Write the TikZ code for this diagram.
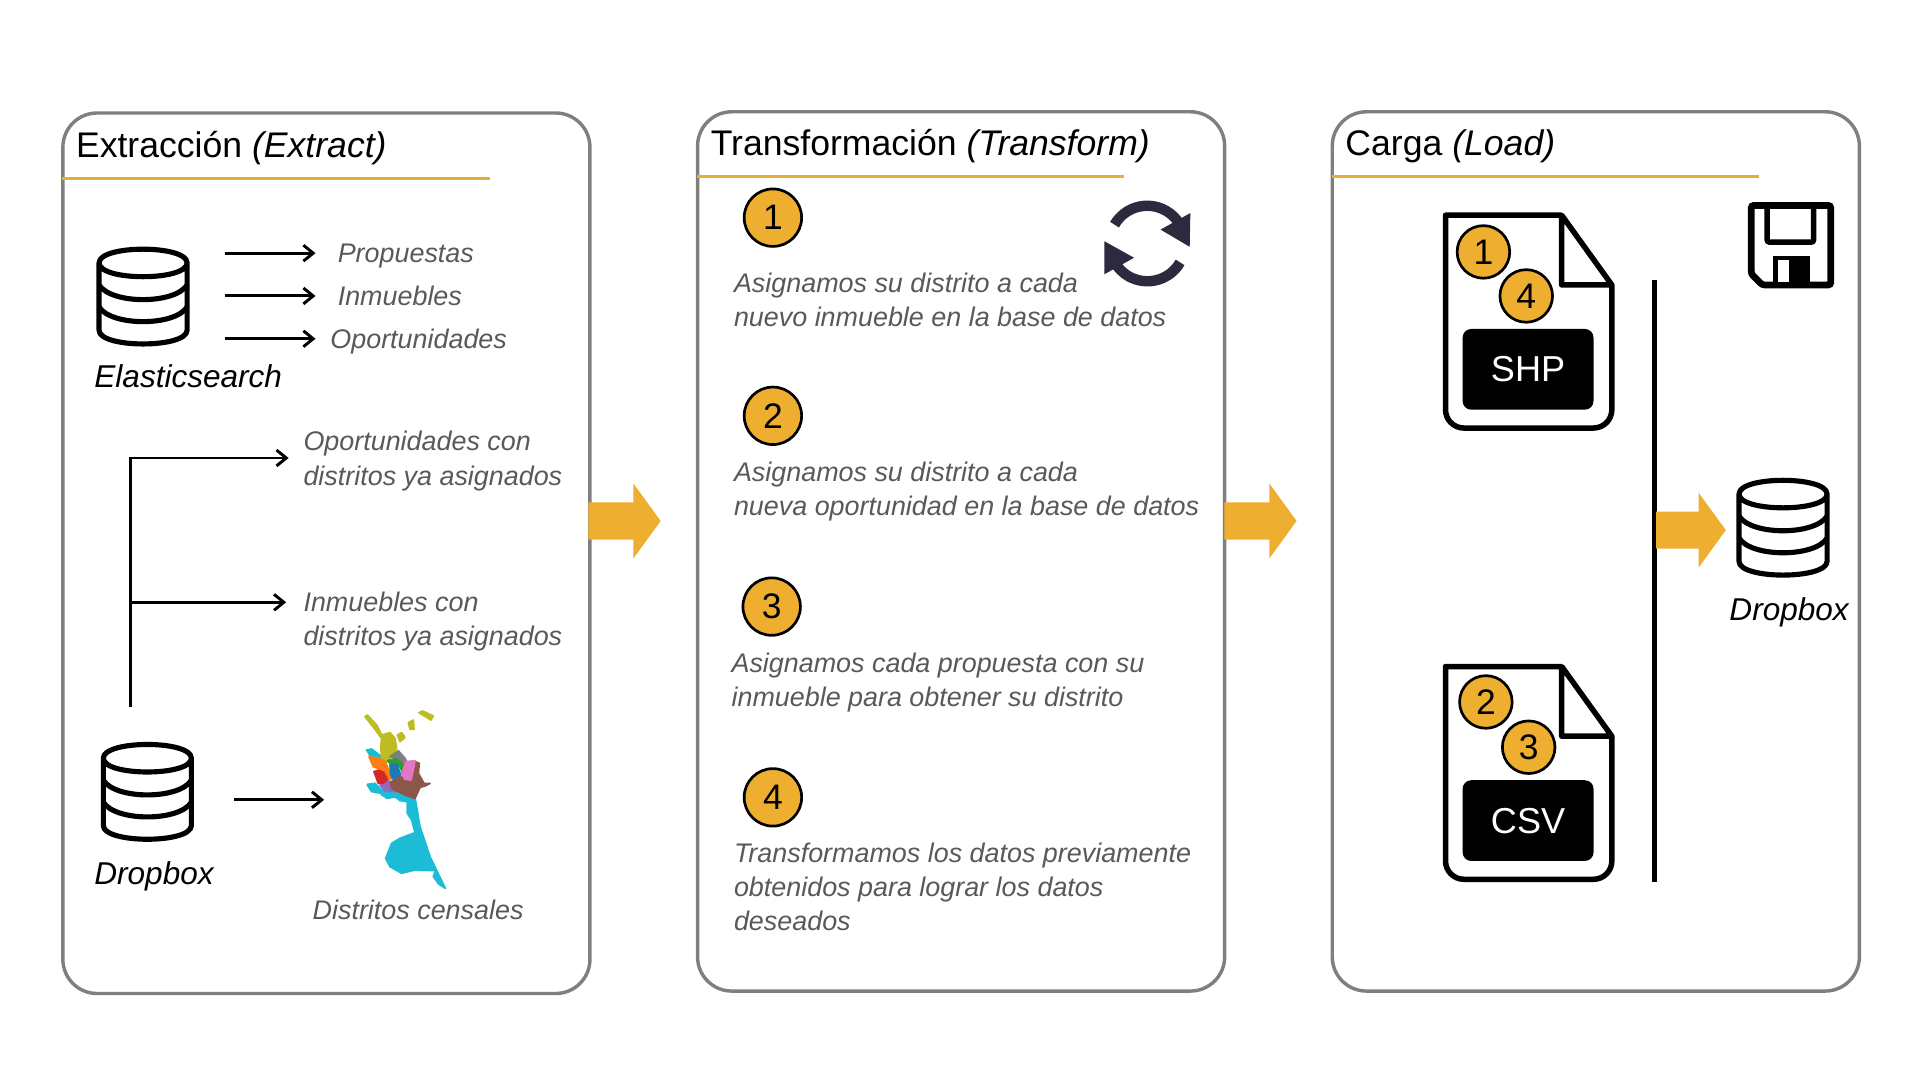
\documentclass[tikz,border=0pt]{standalone}
\usepackage{fontspec}
\setmainfont{Liberation Sans}
\usetikzlibrary{arrows.meta,shapes.arrows}
\definecolor{amber}{HTML}{EEAE30}
\definecolor{rulegold}{HTML}{E5B03A}
\definecolor{panelgray}{HTML}{7F7F7F}
\definecolor{textgray}{HTML}{595959}
\definecolor{syncnavy}{HTML}{2B2A3E}
\definecolor{mapcyan}{RGB}{28,188,214}
\definecolor{mapolive}{RGB}{189,189,34}
\definecolor{mapgray}{RGB}{127,127,127}
\definecolor{mappurple}{RGB}{148,103,189}
\definecolor{mapred}{RGB}{214,39,40}
\definecolor{maporange}{RGB}{255,127,14}
\definecolor{mapgreen}{RGB}{44,160,44}
\definecolor{mapblue}{RGB}{31,119,180}
\definecolor{mapbrown}{RGB}{140,86,75}
\definecolor{mappink}{RGB}{227,119,194}
\tikzstyle{panel} = [rectangle, draw=panelgray, line width=2.8pt, rounded corners=28pt, fill=white, anchor=north west, inner sep=0pt]
\tikzstyle{titlerule} = [rulegold, line width=2.5pt]
\tikzstyle{paneltitle} = [anchor=base west, inner sep=0pt, font=\fontsize{29.1}{34}\selectfont]
\tikzstyle{itemtext} = [anchor=west, inner sep=0pt, align=left, text=textgray, font=\fontsize{22}{28}\selectfont\itshape]
\tikzstyle{itemline} = [itemtext, text height=18pt, text depth=2pt]
\tikzstyle{dblabel} = [anchor=base west, inner sep=0pt, font=\fontsize{25.8}{30}\selectfont\itshape]
\tikzstyle{stepcircle} = [circle, draw=black, line width=2.2pt, fill=amber, minimum size=47pt, inner sep=0pt, font=\fontsize{29}{30}\selectfont]
\tikzstyle{smallcircle} = [circle, draw=black, line width=2.2pt, fill=amber, minimum size=43pt, inner sep=0pt, font=\fontsize{29}{30}\selectfont]
\tikzstyle{filetag} = [rectangle, fill=black, text=white, rounded corners=7pt, minimum width=107pt, minimum height=66pt, inner sep=0pt, font=\fontsize{29.5}{30}\selectfont]
\tikzstyle{arrow} = [line width=2.4pt, -{Straight Barb[length=8pt,width=13pt,line width=2.4pt]}]
\tikzstyle{flowarrow} = [single arrow, fill=amber, anchor=west, inner xsep=0pt, inner ysep=15pt, minimum height=59pt, single arrow head extend=15.5pt, single arrow tip angle=108]
\tikzstyle{dbbox} = [rectangle, minimum width=73pt, minimum height=78pt, inner sep=0pt]
\tikzstyle{mapblob} = [line width=1.4pt, line join=round]
\tikzset{
	dbicon/.pic={
		\draw [line width=4.2pt, line join=round] (-36,-27) .. controls (-36,-42) and (36,-42) .. (36,-27) .. controls (36,-12) and (-36,-12) .. (-36,-27) -- (-36,28) .. controls (-36,43) and (36,43) .. (36,28) -- (36,-27);
		\draw [line width=4.2pt] (-36,-9) .. controls (-26,7) and (26,7) .. (36,-9);
		\draw [line width=4.2pt] (-36,9) .. controls (-26,25) and (26,25) .. (36,9);
	},
	fileicon/.pic={
		\draw [line width=4.5pt, line join=round] (27,-87) -- (-68,-87) [rounded corners=15pt] -- (-68,87) [rounded corners=15pt] -- (68,87) [sharp corners] -- (68,-30) -- (27,-87) -- (27,-30) -- (68,-30);
	}
}
\begin{document}
\begin{tikzpicture}[x=1pt, y=-1pt]
	\useasboundingbox (0,0) rectangle (1570,883.1);
	% Panels
	\node [panel, minimum width=431pt, minimum height=720pt] (ExtractPanel) at (50,91) {};
	\node [panel, minimum width=431pt, minimum height=719pt] (TransformPanel) at (569,90) {};
	\node [panel, minimum width=431pt, minimum height=719pt] (LoadPanel) at (1088,90) {};
	\node [paneltitle] (ExtractTitle) at (62,129) {Extracción \textit{(Extract)}};
	\node [paneltitle] (TransformTitle) at (581,127) {Transformación \textit{(Transform)}};
	\node [paneltitle] (LoadTitle) at (1100,127) {Carga \textit{(Load)}};
	\draw [titlerule] (51,146) -- (401,146);
	\draw [titlerule] (570,144.5) -- (919,144.5);
	\draw [titlerule] (1089,144.5) -- (1438,144.5);
	% Extract panel
	\node [dbbox] (ElasticDb) at (117,242) {};
	\pic at (ElasticDb) {dbicon};
	\node [dblabel] (ElasticLabel) at (77,317) {Elasticsearch};
	\node [itemline] (Propuestas) at (276,207) {Propuestas};
	\node [itemline] (Inmuebles) at (276,242) {Inmuebles};
	\node [itemline] (Oportunidades) at (270,277) {Oportunidades};
	\node [itemtext] (OportunidadesDistritos) at (248,377) {Oportunidades con\\distritos ya asignados};
	\node [itemtext] (InmueblesDistritos) at (248,508) {Inmuebles con\\distritos ya asignados};
	\node [dbbox] (DropboxDb) at (120.5,647) {};
	\pic at (DropboxDb) {dbicon};
	\node [dblabel] (DropboxLabel) at (77,723) {Dropbox};
	\node [itemtext] (DistritosCensales) at (255.5,744) {Distritos censales};
	\coordinate (TreeRoot) at (107,578);
	\coordinate (TreeTop) at (107,374.5);
	\coordinate (TreeJoint) at (107,492.5);
	\coordinate (MapWest) at (265,654);
	% Census map
	\begin{scope}[shift={(245.3,556)}, x=0.2726pt, y=-0.2726pt]
		\filldraw [mapblob, mapcyan] (345,352) -- (360,440) -- (390,530) -- (436,625) -- (416,612) -- (400,590) -- (406,572) -- (345,570) -- (305,580) -- (270,560) -- (257,535) -- (275,490) -- (300,475) -- (345,458) -- (335,420) -- (322,400) -- (322,365) -- (300,362) -- (275,342) -- (260,352) -- (245,345) -- (240,332) -- (215,330) -- (203,313) -- (225,310) -- (245,330) -- cycle;
	\end{scope}
	\begin{scope}[shift={(286.2,572.4)}, x=0.2726pt, y=-0.2726pt]
		\filldraw [mapblob, mapcyan] (50,150) -- (65,147) -- (95,170) -- (85,180) -- (62,170) -- cycle;
		\filldraw [mapblob, mapcyan] (52,255) -- (75,252) -- (90,270) -- (125,272) -- (195,295) -- (185,305) -- (140,290) -- (110,295) -- (95,280) -- (65,275) -- cycle;
		\filldraw [mapblob, mapolive] (45,50) -- (52,45) -- (80,75) -- (95,105) -- (120,98) -- (135,115) -- (140,145) -- (125,170) -- (110,185) -- (95,175) -- (92,140) -- (95,115) -- (75,88) -- cycle;
		\filldraw [mapblob, mapolive] (142,105) -- (155,98) -- (165,112) -- (150,125) -- cycle;
		\filldraw [mapblob, mapolive] (175,68) -- (190,60) -- (192,88) -- (180,88) -- cycle;
		\filldraw [mapblob, mapolive] (207,38) -- (218,33) -- (250,48) -- (243,60) -- cycle;
		\filldraw [mapblob, mapgray] (120,170) -- (145,152) -- (165,175) -- (170,185) -- (165,195) -- (140,178) -- cycle;
		\filldraw [mapblob, mappurple] (90,255) -- (112,235) -- (125,260) -- (140,275) -- (105,272) -- cycle;
		\filldraw [mapblob, mapred] (72,215) -- (100,205) -- (115,235) -- (100,250) -- (85,250) -- cycle;
		\filldraw [mapblob, maporange] (57,170) -- (85,175) -- (105,183) -- (112,200) -- (127,235) -- (118,238) -- (105,212) -- (70,200) -- cycle;
		\filldraw [mapblob, mapgreen] (112,182) -- (140,176) -- (165,200) -- (160,225) -- (150,200) -- (122,192) -- cycle;
		\filldraw [mapblob, mapblue] (120,195) -- (140,190) -- (152,225) -- (132,240) -- (122,225) -- cycle;
		\filldraw [mapblob, mapbrown] (195,185) -- (208,190) -- (205,220) -- (222,250) -- (240,250) -- (225,258) -- (210,262) -- (195,295) -- (165,285) -- (125,265) -- (122,245) -- (135,240) -- (155,230) -- (183,243) -- (192,210) -- cycle;
		\filldraw [mapblob, mappink] (168,185) -- (195,182) -- (190,210) -- (183,240) -- (165,238) -- (155,222) -- cycle;
	\end{scope}
	% Extract arrows
	\draw [arrow, shorten <=30pt, shorten >=18pt] (ElasticDb.east |- Propuestas.west) -- (Propuestas.west);
	\draw [arrow, shorten <=30pt, shorten >=18pt] (ElasticDb.east |- Inmuebles.west) -- (Inmuebles.west);
	\draw [arrow, shorten <=30pt, shorten >=12pt] (ElasticDb.east |- Oportunidades.west) -- (Oportunidades.west);
	\draw [arrow, shorten >=12pt] (TreeRoot) |- (TreeTop -| OportunidadesDistritos.west);
	\draw [arrow, shorten >=14pt] (TreeJoint) -- (TreeJoint -| InmueblesDistritos.west);
	\draw [arrow, shorten <=34pt] (DropboxDb.east |- MapWest) -- (MapWest);
	% Transform panel
	\node [stepcircle] (StepOne) at (632,178) {1};
	\node [itemtext] (StepOneText) at (600,245) {Asignamos su distrito a cada\\nuevo inmueble en la base de datos};
	\node [stepcircle] (StepTwo) at (632,340) {2};
	\node [itemtext] (StepTwoText) at (600,402) {Asignamos su distrito a cada\\nueva oportunidad en la base de datos};
	\node [stepcircle] (StepThree) at (631,496) {3};
	\node [itemtext] (StepThreeText) at (598,558) {Asignamos cada propuesta con su\\inmueble para obtener su distrito};
	\node [stepcircle] (StepFour) at (632,652) {4};
	\node [itemtext] (StepFourText) at (600,725) {Transformamos los datos previamente\\obtenidos para lograr los datos\\deseados};
	% Sync icon
	\begin{scope}[shift={(884,139)}, x=0.2708pt, y=-0.2708pt]
		\draw [syncnavy, line width=8.5pt] (101,165) arc [start angle=-150, end angle=-30, radius=114];
		\draw [syncnavy, line width=8.5pt] (299,279) arc [start angle=30, end angle=150, radius=114];
		\fill [syncnavy] (330,130) -- (328,232) -- (240,180) -- cycle;
		\fill [syncnavy] (70,215) -- (70,315) -- (160,265) -- cycle;
	\end{scope}
	% Load panel
	\pic at (1250,263) {fileicon};
	\node [smallcircle] (ShpOne) at (1213,206) {1};
	\node [smallcircle] (ShpFour) at (1248,242) {4};
	\node [filetag] (ShpTag) at (1249.5,302) {\raisebox{-2.5pt}{SHP}};
	\pic at (1250,632) {fileicon};
	\node [smallcircle] (CsvTwo) at (1215,574) {2};
	\node [smallcircle] (CsvThree) at (1250,611) {3};
	\node [filetag] (CsvTag) at (1249.5,671) {\raisebox{-2.5pt}{CSV}};
	\draw [line width=4.5pt] (1353,229) -- (1353,721);
	\node [dbbox] (LoadDb) at (1458,431) {};
	\pic at (LoadDb) {dbicon};
	\node [dblabel] (LoadDbLabel) at (1414,507) {Dropbox};
	% Floppy icon
	\draw [line width=5.5pt, rounded corners=2pt] (1432,168) -- (1497,168) -- (1497,233) -- (1441,233) -- (1432,224) -- cycle;
	\draw [line width=4.5pt, rounded corners=2pt] (1445,168) -- (1445,198) -- (1483,198) -- (1483,168);
	\fill [black] (1449.5,209.5) rectangle (1480,232);
	\fill [white] (1453.5,212.7) rectangle (1463,230.5);
	% Flow arrows
	\node [flowarrow] (ExtractFlow) at (481,426) {};
	\node [flowarrow] (TransformFlow) at (1001,426) {};
	\node [flowarrow, minimum height=57pt] (LoadFlow) at (1354,433.5) {};
\end{tikzpicture}
\end{document}
